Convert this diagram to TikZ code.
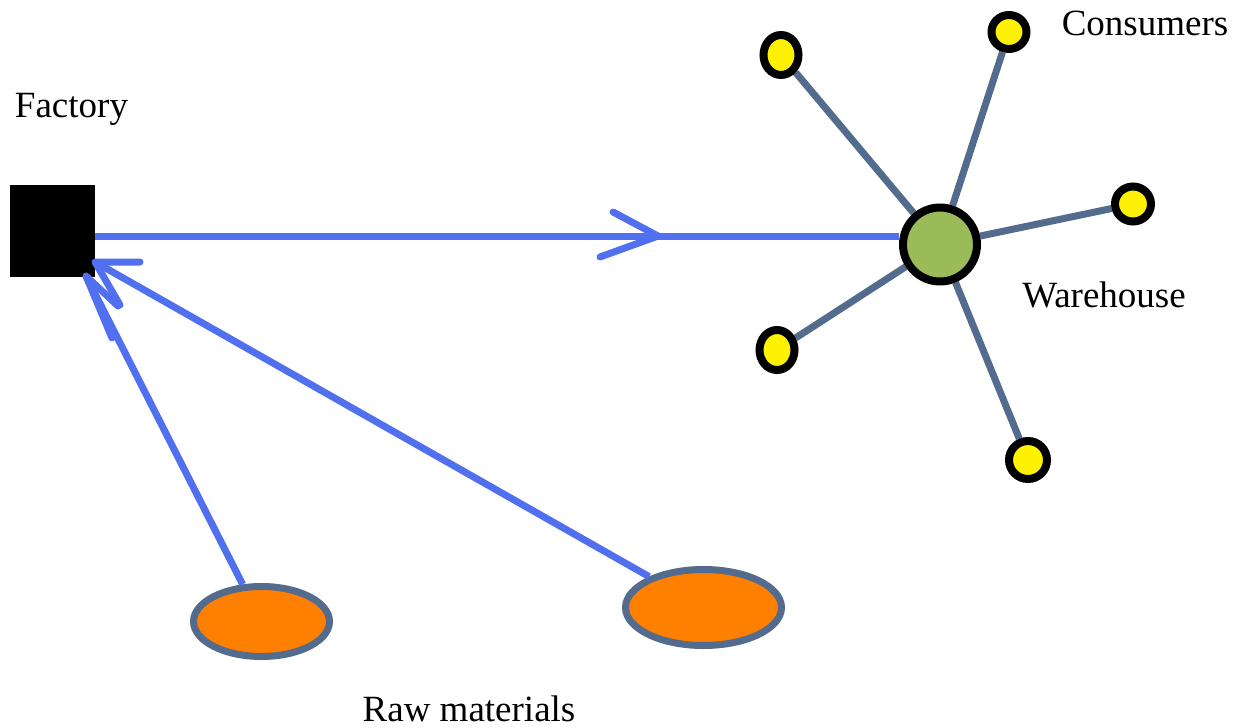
\documentclass[tikz,border=0pt]{standalone}
\usepackage{fontspec}
\setmainfont{Liberation Serif}
\usetikzlibrary{shapes.geometric,backgrounds,calc}
\definecolor{arrowblue}{RGB}{80,112,240}
\definecolor{linkgray}{RGB}{83,107,140}
\definecolor{whgreen}{RGB}{155,187,89}
\definecolor{consyellow}{RGB}{255,242,0}
\definecolor{raworange}{RGB}{255,128,0}
\begin{document}
\begin{tikzpicture}[x=1pt,y=-1pt,
  lbl/.style={font=\fontsize{37}{42}\selectfont, anchor=base, inner sep=0pt},
  factorybox/.style={rectangle, fill=black, draw=none, minimum width=85pt, minimum height=92pt, inner sep=0pt},
  warehousenode/.style={circle, fill=whgreen, draw=black, line width=8pt, minimum size=74pt, inner sep=0pt},
  consumer/.style={ellipse, fill=consyellow, draw=black, line width=8pt, inner sep=0pt},
  rawnode/.style={ellipse, fill=raworange, draw=linkgray, line width=7pt, inner sep=0pt},
  link/.style={draw=linkgray, line width=7pt},
  flow/.style={draw=arrowblue, line width=7pt},
  barb/.style={draw=arrowblue, line width=7pt, line cap=round, line join=round}]
\useasboundingbox (0,0) rectangle (1235,728);

% nodes
\node[factorybox] (fac) at (52.5,231) {};
\node[warehousenode] (wh) at (940,244.5) {};
\node[consumer, minimum width=35pt, minimum height=40pt] (c1) at (781,55) {};
\node[consumer, minimum width=35pt, minimum height=34pt] (c2) at (1009,32) {};
\node[consumer, minimum width=36pt, minimum height=35pt] (c3) at (1133,204) {};
\node[consumer, minimum width=35pt, minimum height=40pt] (c4) at (777,350) {};
\node[consumer, minimum width=38pt, minimum height=38pt] (c5) at (1028,460) {};
\node[rawnode, minimum width=136pt, minimum height=70pt] (e1) at (261.5,621.5) {};
\node[rawnode, minimum width=156pt, minimum height=76pt] (e2) at (703.5,607.5) {};

% labels
\node[lbl] (lfac) at (71.5,117) {Factory};
\node[lbl] (lcons) at (1145,35) {Consumers};
\node[lbl] (lwh) at (1104,307) {Warehouse};
\node[lbl] (lraw) at (469,721) {Raw materials};

% warehouse to consumers
\begin{scope}[on background layer]
  \draw[link] (wh) -- (c1);
  \draw[link] (wh) -- (c2);
  \draw[link] (wh) -- (c3);
  \draw[link] (wh) -- (c4);
  \draw[link] (wh) -- (c5);
\end{scope}

% factory to warehouse
\draw[flow] (fac.east |- 0,236) -- (wh.west |- 0,236);
\coordinate (mid) at (658,236);
\draw[barb] ($(mid)+(-45,-24)$) -- (mid) -- ($(mid)+(-58,21)$);

% raw materials to factory
\coordinate (tipA) at (86,276);
\coordinate (tipB) at (95,262);
\draw[flow] (e1) -- (tipA);
\draw[flow] (e2) -- (tipB);
\draw[barb] ($(tipA)+(32,30)$) -- (tipA) -- ($(tipA)+(26,62)$);
\draw[barb] ($(tipB)+(45,0)$) -- (tipB) -- ($(tipB)+(25,43)$);
\end{tikzpicture}
\end{document}
